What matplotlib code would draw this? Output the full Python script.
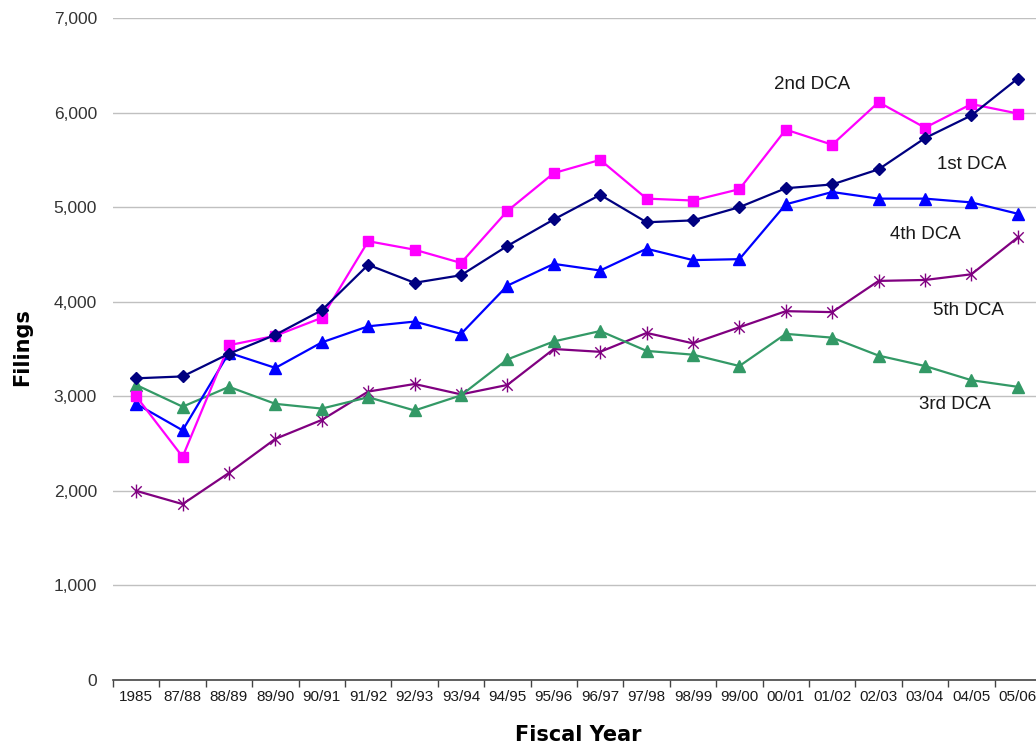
import matplotlib
matplotlib.use("Agg")
import matplotlib.pyplot as plt
from matplotlib.path import Path
from matplotlib.ticker import FuncFormatter, FixedLocator

plt.rcParams['font.family'] = ['Liberation Sans', 'DejaVu Sans']

years = ["1985", "87/88", "88/89", "89/90", "90/91", "91/92", "92/93", "93/94",
         "94/95", "95/96", "96/97", "97/98", "98/99", "99/00", "00/01", "01/02",
         "02/03", "03/04", "04/05", "05/06"]

dca_1st = [3190, 3210, 3450, 3650, 3910, 4390, 4200, 4280, 4590, 4870,
           5130, 4840, 4860, 5000, 5200, 5240, 5400, 5730, 5970, 6360]
dca_2nd = [3000, 2360, 3540, 3640, 3830, 4640, 4550, 4410, 4960, 5360,
           5500, 5090, 5070, 5190, 5820, 5660, 6110, 5840, 6090, 5990]
dca_3rd = [3120, 2890, 3100, 2920, 2870, 2990, 2850, 3010, 3390, 3580,
           3690, 3480, 3440, 3320, 3660, 3620, 3430, 3320, 3170, 3100]
dca_4th = [2920, 2640, 3460, 3300, 3570, 3740, 3790, 3660, 4170, 4400,
           4330, 4560, 4440, 4450, 5030, 5160, 5090, 5090, 5050, 4930]
dca_5th = [2000, 1860, 2190, 2550, 2750, 3050, 3130, 3020, 3120, 3500,
           3470, 3670, 3560, 3730, 3900, 3890, 4220, 4230, 4290, 4680]

series_labels = ["1st DCA", "2nd DCA", "3rd DCA", "4th DCA", "5th DCA"]

# asterisk marker: vertical bar plus an X
star = Path([(0, -1), (0, 1), (-0.75, -0.75), (0.75, 0.75), (-0.75, 0.75), (0.75, -0.75)],
            [Path.MOVETO, Path.LINETO, Path.MOVETO, Path.LINETO, Path.MOVETO, Path.LINETO])

fig = plt.figure(figsize=(10.36, 7.49), dpi=100)
ax = fig.add_axes([113 / 1036, 69 / 749, 928 / 1036, 662 / 749])

x = list(range(len(years)))
lw = 1.6
ax.plot(x, dca_5th, color="#800080", lw=lw, marker=star, ms=10, mew=1.0,
        mfc="none", mec="#800080", zorder=3)
ax.plot(x, dca_3rd, color="#339966", lw=lw, marker="^", ms=8.5, mec="#339966", zorder=3)
ax.plot(x, dca_4th, color="#0000FF", lw=lw, marker="^", ms=8.5, mec="#0000FF", zorder=4)
ax.plot(x, dca_2nd, color="#FF00FF", lw=lw, marker="s", ms=7, mec="#FF00FF", zorder=4)
ax.plot(x, dca_1st, color="#000080", lw=lw, marker="D", ms=6.5, mec="#000080", zorder=5)

# series labels placed beside their lines
label_pos = {
    "2nd DCA": (14.57, 6292),
    "1st DCA": (18.0, 5456),
    "4th DCA": (17.0, 4716),
    "5th DCA": (17.93, 3912),
    "3rd DCA": (17.65, 2918),
}
for name in series_labels:
    lx, ly = label_pos[name]
    ax.text(lx, ly, name, fontsize=13.5, color="#1a1a1a", ha="center", va="center")

ax.set_xlim(-0.5, len(years) - 0.5)
ax.set_ylim(0, 7000)
ax.set_yticks(range(0, 7001, 1000))
ax.yaxis.set_major_formatter(FuncFormatter(lambda v, p: f"{int(v):,}"))
ax.grid(axis="y", color="#C0C0C0", lw=1.0)
ax.set_axisbelow(True)

ax.set_xticks(x)
ax.set_xticklabels(years, fontsize=11, color="#1a1a1a")
ax.xaxis.set_minor_locator(FixedLocator([k - 0.5 for k in range(len(years) + 1)]))
ax.tick_params(axis="x", which="major", length=0, pad=7)
ax.tick_params(axis="x", which="minor", length=5, width=1, color="#444444", direction="out")
ax.tick_params(axis="y", length=0, labelsize=12.5, pad=11.5, labelcolor="#333333")

for s in ["top", "right", "left"]:
    ax.spines[s].set_visible(False)
ax.spines["bottom"].set_color("#444444")
ax.spines["bottom"].set_linewidth(1.2)

fig.text(22 / 1036, 1 - 347 / 749, "Filings", rotation=90, fontsize=15,
         fontweight="bold", family="DejaVu Sans", ha="center", va="center")
fig.text(578 / 1036, 1 - 735 / 749, "Fiscal Year", fontsize=15,
         fontweight="bold", family="DejaVu Sans", ha="center", va="center")

fig.savefig("out.png", dpi=100)
